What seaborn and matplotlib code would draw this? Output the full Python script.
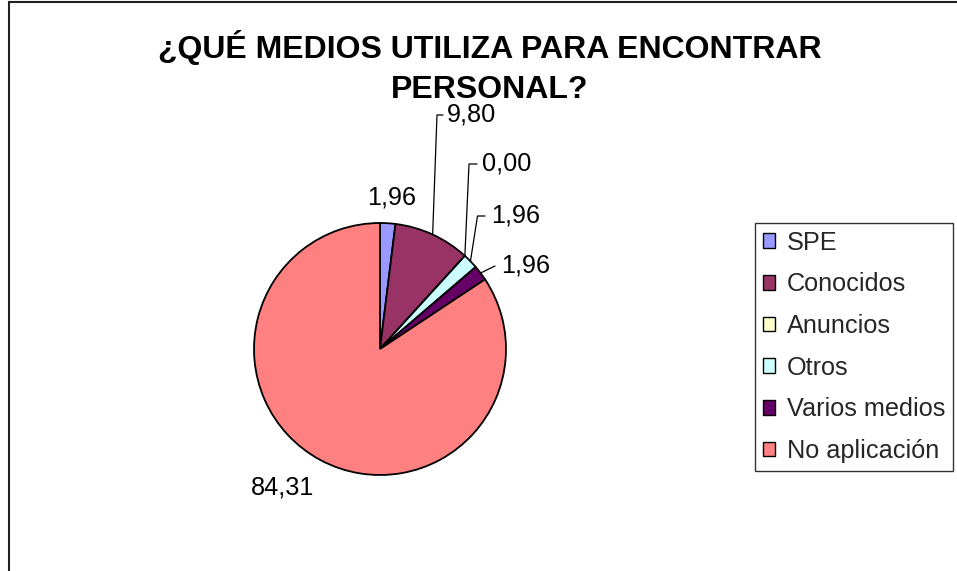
import numpy as np
import matplotlib
matplotlib.use("Agg")
import matplotlib.pyplot as plt
from matplotlib.patches import Rectangle
from matplotlib.lines import Line2D
import seaborn as sns

# ---- data ----
categories = ["SPE", "Conocidos", "Anuncios", "Otros", "Varios medios", "No aplicación"]
values = [1.96, 9.80, 0.00, 1.96, 1.96, 84.31]
value_labels = ["1,96", "9,80", "0,00", "1,96", "1,96", "84,31"]
colors = ["#9999FF", "#993366", "#FFFFCC", "#CCFFFF", "#660066", "#FF8080"]
title = "¿QUÉ MEDIOS UTILIZA PARA ENCONTRAR\nPERSONAL?"

sns.set_theme(style="white")
plt.rcParams["font.family"] = ["Liberation Sans", "DejaVu Sans"]

W, H = 957, 571
fig = plt.figure(figsize=(W / 100, H / 100), dpi=100)
ax = fig.add_axes([0, 0, 1, 1])

# pie geometry in pixels
cx, cy, R = 380, 349, 126

def px(x, y):
    return ((x - cx) / R, (cy - y) / R)

wedges, _ = ax.pie(values, colors=colors, startangle=90, counterclock=False,
                   wedgeprops=dict(edgecolor="black", linewidth=1.3))
ax.set_xlim(-cx / R, (W - cx) / R)
ax.set_ylim(-(H - cy) / R, cy / R)
ax.set_aspect("equal")
ax.axis("off")

# label layout: (text x start/center, text y center, elbow points in px, ha)
layout = [
    dict(tx=391.5, ty=197, ha="center", leader=None),
    dict(tx=447, ty=115, ha="left", leader=[(437, 115), (443, 115)]),
    dict(tx=482, ty=164, ha="left", leader=[(469, 164), (477, 164)]),
    dict(tx=491, ty=216, ha="left", leader=[(477.5, 216), (485, 216)]),
    dict(tx=501, ty=266, ha="left", leader=[(495, 266)]),
    dict(tx=282.5, ty=487, ha="center", leader=None),
]
fs = 18.2
for w, lab, lay in zip(wedges, value_labels, layout):
    mid = np.deg2rad((w.theta1 + w.theta2) / 2)
    if lay["leader"]:
        pts = [(np.cos(mid), np.sin(mid))] + [px(*p) for p in lay["leader"]]
        xs, ys = zip(*pts)
        ax.add_line(Line2D(xs, ys, color="black", linewidth=0.9))
    tx, ty = px(lay["tx"], lay["ty"])
    ax.text(tx, ty, lab, ha=lay["ha"], va="center", fontsize=fs, color="black")

# title
fig.text(490 / W, 1 - 67.5 / H, title, ha="center", va="center",
         fontsize=23, fontweight="bold", linespacing=1.42, color="black")

# legend
handles = [Rectangle((0, 0), 1, 1, facecolor=c, edgecolor="black", linewidth=1.0)
           for c in colors]
leg = fig.legend(handles, categories, loc="upper left",
                 bbox_to_anchor=(755 / W, 1 - 223 / H, (956 - 755) / W, 0),
                 fontsize=fs, frameon=True, fancybox=False, shadow=False,
                 handlelength=0.5, handleheight=0.5, handletextpad=0.45,
                 labelspacing=0.7, borderpad=0.3, borderaxespad=0.0)
fr = leg.get_frame()
fr.set_edgecolor("black")
fr.set_linewidth(1.0)
fr.set_facecolor("white")

# chart border (left and top visible)
fig.add_artist(Rectangle((8.5 / W, -0.05), 1.2, 1.05 - 2.5 / H,
                         transform=fig.transFigure, fill=False,
                         edgecolor="#222222", linewidth=1.5))

fig.savefig("out.png", dpi=100)
